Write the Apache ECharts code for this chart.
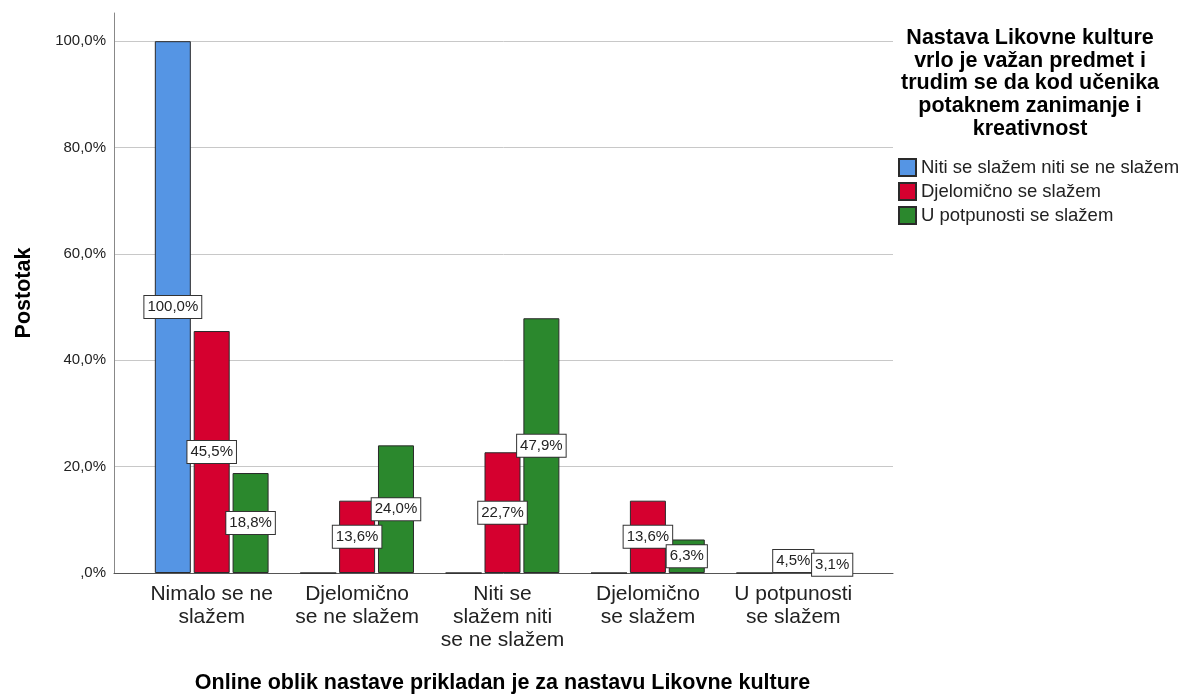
<!DOCTYPE html>
<html>
<head>
<meta charset="utf-8">
<script src="https://cdn.jsdelivr.net/npm/echarts@6/dist/echarts.min.js"></script>
<style>
html,body{margin:0;padding:0;background:#fff;}
#chart{width:1182px;height:697px;}
</style>
</head>
<body>
<div id="chart"></div>
<script>
const categories = [
  'Nimalo se ne\nslažem',
  'Djelomično\nse ne slažem',
  'Niti se\nslažem niti\nse ne slažem',
  'Djelomično\nse slažem',
  'U potpunosti\nse slažem'
];
const seriesNames = [
  'Niti se slažem niti se ne slažem',
  'Djelomično se slažem',
  'U potpunosti se slažem'
];
const valuesNeutral = [100.0, 0, 0, 0, 0];
const valuesPartly = [45.5, 13.6, 22.7, 13.6, 4.5];
const valuesFully = [18.8, 24.0, 47.9, 6.3, 3.1];
const yTicks = [0, 20, 40, 60, 80, 100];
const legendTitle = 'Nastava Likovne kulture\nvrlo je važan predmet i\ntrudim se da kod učenika\npotaknem zanimanje i\nkreativnost';
const xTitle = 'Online oblik nastave prikladan je za nastavu Likovne kulture';
const yTitle = 'Postotak';

const FONT = '"Liberation Sans", Arial, Helvetica, sans-serif';
const colors = ['#5595e4', '#d5002f', '#2b882d'];
const yMax = 105.3;

function pct(v) {
  if (v === 0) return ',0%';
  return v.toFixed(1).replace('.', ',') + '%';
}

const seriesData = [valuesNeutral, valuesPartly, valuesFully];

const chart = echarts.init(document.getElementById('chart'), null, {renderer: 'canvas'});
chart.setOption({
  animation: false,
  textStyle: {fontFamily: FONT},
  grid: [
    {left: 114, right: 289, top: 13, bottom: 124, containLabel: false, outerBoundsMode: 'none'},
    {left: 139, right: 316, top: 13, bottom: 124, containLabel: false, outerBoundsMode: 'none'}
  ],
  xAxis: [
    {
      gridIndex: 0, type: 'value', min: 0, max: 1,
      axisLine: {show: true, lineStyle: {color: '#555', width: 1}},
      axisTick: {show: false}, axisLabel: {show: false}, splitLine: {show: false}
    },
    {
      gridIndex: 1, type: 'category', data: categories,
      axisLine: {show: false}, axisTick: {show: false},
      axisLabel: {
        interval: 0, fontSize: 21, lineHeight: 23, color: '#222',
        fontFamily: FONT, margin: 10
      },
      name: xTitle, nameLocation: 'middle', nameGap: 99,
      nameTextStyle: {fontSize: 21.5, fontWeight: 'bold', color: '#000', fontFamily: FONT}
    }
  ],
  yAxis: [
    {
      gridIndex: 0, type: 'value', min: 0, max: yMax, interval: 20,
      axisLine: {show: true, lineStyle: {color: '#888', width: 1}},
      axisTick: {show: false},
      axisLabel: {
        fontSize: 15, color: '#222', margin: 8, fontFamily: FONT,
        showMaxLabel: false,
        formatter: function (v) { return yTicks.indexOf(v) >= 0 ? pct(v) : ''; }
      },
      splitLine: {show: true, showMaxLine: false, lineStyle: {color: '#c8c8c8', width: 1}},
      name: yTitle, nameLocation: 'middle', nameRotate: 90, nameGap: 79,
      nameTextStyle: {fontSize: 21.5, fontWeight: 'bold', color: '#000', fontFamily: FONT}
    },
    {
      gridIndex: 1, type: 'value', min: 0, max: yMax, interval: 20, show: false
    }
  ],
  legend: {
    orient: 'vertical', left: 893, top: 153,
    itemWidth: 17, itemHeight: 17, itemGap: 5, icon: 'rect',
    textStyle: {fontSize: 18.5, color: '#222', fontFamily: FONT},
    data: seriesNames
  },
  graphic: [{
    type: 'text', left: 1036 - 135, top: 27,
    style: {
      text: legendTitle, x: 135, textAlign: 'center', verticalAlign: 'top',
      font: 'bold 21.5px ' + FONT, lineHeight: 22.6, fill: '#000'
    }
  }],
  series: seriesNames.map(function (name, i) {
    return {
      name: name, type: 'bar', xAxisIndex: 1, yAxisIndex: 1,
      data: seriesData[i].map(function (v) {
        return {value: v, label: {show: v !== 0}};
      }),
      barWidth: 36, barGap: '8%',
      itemStyle: {color: colors[i], borderColor: '#2a2a2a', borderWidth: 1},
      label: {
        show: true, position: 'inside',
        formatter: function (p) { return pct(p.value); },
        backgroundColor: '#fff', borderColor: '#333', borderWidth: 1,
        padding: [4, 3, 3, 3], fontSize: 15, color: '#222', fontFamily: FONT
      }
    };
  })
});
</script>
</body>
</html>
